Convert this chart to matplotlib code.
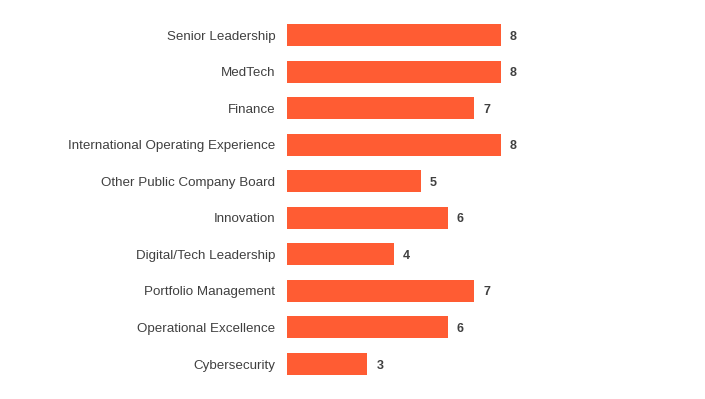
import matplotlib.pyplot as plt

plt.rcParams['font.family'] = ['Liberation Sans', 'DejaVu Sans']

# Data
categories = [
    "Senior Leadership",
    "MedTech",
    "Finance",
    "International Operating Experience",
    "Other Public Company Board",
    "Innovation",
    "Digital/Tech Leadership",
    "Portfolio Management",
    "Operational Excellence",
    "Cybersecurity",
]
counts = [8, 8, 7, 8, 5, 6, 4, 7, 6, 3]

bar_color = "#FF5C33"
text_color = "#404040"

fig = plt.figure(figsize=(7.05, 3.99), dpi=100)
ax = fig.add_axes([287 / 705, 0.0419, 214 / 705, 0.916])

y = list(range(len(categories)))
ax.barh(y, counts, height=0.6, color=bar_color)

for yi, v in zip(y, counts):
    ax.annotate(str(v), (v, yi), xytext=(6.5, 0), textcoords="offset points",
                ha="left", va="center_baseline", fontsize=9, fontweight="bold",
                color=text_color, annotation_clip=False)

ax.set_xlim(0, 8)
ax.set_ylim(len(categories) - 0.5, -0.5)
ax.set_yticks(y)
ax.set_yticklabels(categories, fontsize=9.6, color=text_color)
ax.tick_params(axis="y", length=0, pad=8.5)
ax.set_xticks([])
for s in ax.spines.values():
    s.set_visible(False)

fig.savefig("out.png", dpi=100)
